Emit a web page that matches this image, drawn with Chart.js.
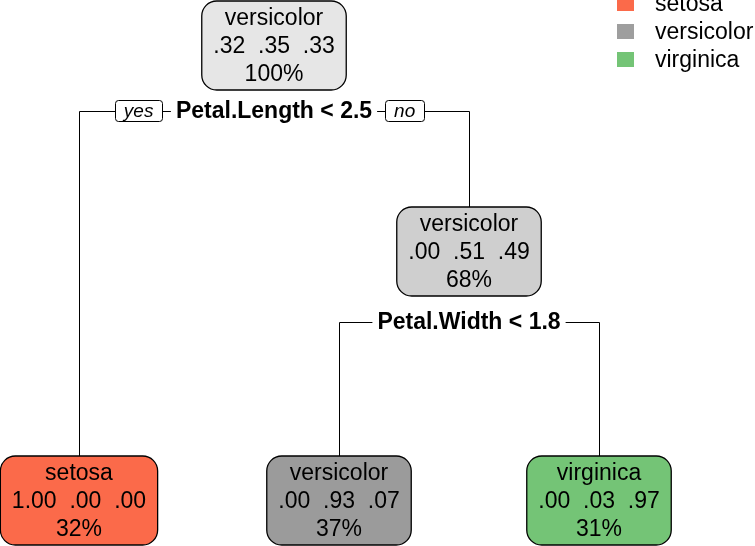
<!DOCTYPE html>
<html><head><meta charset="utf-8">
<script src="https://cdn.jsdelivr.net/npm/chart.js@4/dist/chart.umd.min.js"></script>
<style>html,body{margin:0;padding:0;background:#fff;} #wrap{width:755px;height:546px;position:relative;}</style>
</head><body><div id="wrap"><canvas id="c" width="755" height="546"></canvas></div>
<script>
// ---- data ----
const classNames = ['setosa', 'versicolor', 'virginica'];
const nodeIds = [1, 2, 3, 6, 7];
const nodeLabels = ['versicolor', 'setosa', 'versicolor', 'versicolor', 'virginica'];
const nodeProbs = [[0.32, 0.35, 0.33], [1.00, 0.00, 0.00], [0.00, 0.51, 0.49], [0.00, 0.93, 0.07], [0.00, 0.03, 0.97]];
const nodePercent = [100, 32, 68, 37, 31];
const splitNodes = [1, 3];
const splitLabels = ['Petal.Length < 2.5', 'Petal.Width < 1.8'];

// ---- styles / layout ----
const CLASS_COLORS = { setosa: '#FB6A4A', versicolor: '#9E9E9E', virginica: '#74C476' };
const NODE_FILL = { 1: '#E6E6E6', 2: '#FB6A4A', 3: '#CFCFCF', 6: '#9B9B9B', 7: '#74C476' };
const FONT = '"Liberation Sans", Arial, sans-serif';
const FS = 23;
const LINE_H = 28;
const BOX_H = 89;
const INTERNAL_TOP = [1, 207];   // box tops by depth (y units)
const LEAF_TOP = 456;
const SPLIT_Y = [111, 322];      // split label line by depth (y units)

// tree layout computed from node ids (rpart numbering)
const idSet = new Set(nodeIds);
const isLeaf = id => !idSet.has(2 * id) && !idSet.has(2 * id + 1);
const depthOf = id => Math.floor(Math.log2(id));
const xu = {};
let leafCounter = 0;
(function walk(id) {
  if (isLeaf(id)) { xu[id] = leafCounter++; return; }
  walk(2 * id); walk(2 * id + 1);
  xu[id] = (xu[2 * id] + xu[2 * id + 1]) / 2;
})(1);
const topOf = id => isLeaf(id) ? LEAF_TOP : INTERNAL_TOP[depthOf(id)];
const points = nodeIds.map(id => ({ x: xu[id], y: topOf(id) + BOX_H / 2 }));

function fmtProb(p) {
  const s = p.toFixed(2);
  return s.startsWith('0') ? s.slice(1) : s;
}

function roundRect(ctx, x, y, w, h, r) {
  ctx.beginPath();
  ctx.moveTo(x + r, y);
  ctx.lineTo(x + w - r, y);
  ctx.arcTo(x + w, y, x + w, y + r, r);
  ctx.lineTo(x + w, y + h - r);
  ctx.arcTo(x + w, y + h, x + w - r, y + h, r);
  ctx.lineTo(x + r, y + h);
  ctx.arcTo(x, y + h, x, y + h - r, r);
  ctx.lineTo(x, y + r);
  ctx.arcTo(x, y, x + r, y, r);
  ctx.closePath();
}

const treePlugin = {
  id: 'tree',
  afterDatasetsDraw(chart) {
    const ctx = chart.ctx;
    const ys = chart.scales.y;
    const pts = chart.getDatasetMeta(0).data;
    const pos = {};
    nodeIds.forEach((id, i) => { pos[id] = { x: pts[i].x, y: pts[i].y }; });
    const topPx = id => ys.getPixelForValue(topOf(id));
    ctx.save();
    ctx.textAlign = 'center';
    ctx.textBaseline = 'middle';

    // edges
    ctx.strokeStyle = '#000';
    ctx.lineWidth = 1;
    splitNodes.forEach(id => {
      const sy = Math.round(ys.getPixelForValue(SPLIT_Y[depthOf(id)])) + 0.5;
      const L = 2 * id, R = 2 * id + 1;
      const xl = Math.round(pos[L].x) + 0.5, xr = Math.round(pos[R].x) + 0.5;
      ctx.beginPath();
      ctx.moveTo(xl, topPx(L));
      ctx.lineTo(xl, sy);
      ctx.lineTo(xr, sy);
      ctx.lineTo(xr, topPx(R));
      ctx.stroke();
    });

    // split labels
    splitNodes.forEach((id, k) => {
      const sy = ys.getPixelForValue(SPLIT_Y[depthOf(id)]);
      const cx = pos[id].x;
      ctx.font = 'bold ' + FS + 'px ' + FONT;
      const w = ctx.measureText(splitLabels[k]).width;
      ctx.fillStyle = '#fff';
      ctx.fillRect(cx - w / 2 - 5, sy - 13, w + 10, 26);
      ctx.fillStyle = '#000';
      ctx.fillText(splitLabels[k], cx, sy + 1);
      if (id === 1) {
        ctx.font = 'italic 19px ' + FONT;
        const yw = ctx.measureText('yes').width + 17;
        const nw = ctx.measureText('no').width + 18;
        const yx = cx - w / 2 - 14 - yw;
        const nx = cx + w / 2 + 13;
        [[yx, yw, 'yes'], [nx, nw, 'no']].forEach(([bx, bw, t]) => {
          roundRect(ctx, Math.round(bx) + 0.5, Math.round(sy - 11) + 0.5, Math.round(bw), 21, 3);
          ctx.fillStyle = '#fff';
          ctx.fill();
          ctx.lineWidth = 1;
          ctx.strokeStyle = '#000';
          ctx.stroke();
          ctx.fillStyle = '#000';
          ctx.fillText(t, bx + bw / 2, sy + 0.5);
        });
      }
    });

    // node boxes
    nodeIds.forEach((id, i) => {
      const p = pos[id];
      const lines = [nodeLabels[i], nodeProbs[i].map(fmtProb).join('  '), nodePercent[i] + '%'];
      ctx.font = FS + 'px ' + FONT;
      const tw = Math.max(...lines.map(s => ctx.measureText(s).width));
      const bw = tw + FS;
      const top = topPx(id);
      roundRect(ctx, p.x - bw / 2, top, bw, BOX_H, 15);
      ctx.fillStyle = NODE_FILL[id];
      ctx.fill();
      ctx.lineWidth = 1.3;
      ctx.strokeStyle = '#000';
      ctx.stroke();
      ctx.fillStyle = '#000';
      lines.forEach((s, j) => ctx.fillText(s, p.x, p.y + (j - 1) * LINE_H + 1));
    });

    // legend
    ctx.textAlign = 'left';
    ctx.font = FS + 'px ' + FONT;
    classNames.forEach((c, i) => {
      const cy = 3.5 + i * 28;
      ctx.fillStyle = CLASS_COLORS[c];
      ctx.fillRect(617, cy - 7.5, 17, 15);
      ctx.fillStyle = '#000';
      ctx.fillText(c, 655, cy + 1);
    });
    ctx.restore();
  }
};

new Chart(document.getElementById('c'), {
  type: 'scatter',
  data: { datasets: [{ data: points, pointRadius: 0, pointHoverRadius: 0 }] },
  options: {
    responsive: false,
    animation: false,
    devicePixelRatio: 1,
    layout: { padding: 0 },
    plugins: { legend: { display: false }, tooltip: { enabled: false } },
    scales: {
      x: { type: 'linear', display: false, min: -79 / 260, max: -79 / 260 + 755 / 260 },
      y: { type: 'linear', display: false, min: 0, max: 546, reverse: true }
    }
  },
  plugins: [treePlugin]
});
</script>
</body></html>
